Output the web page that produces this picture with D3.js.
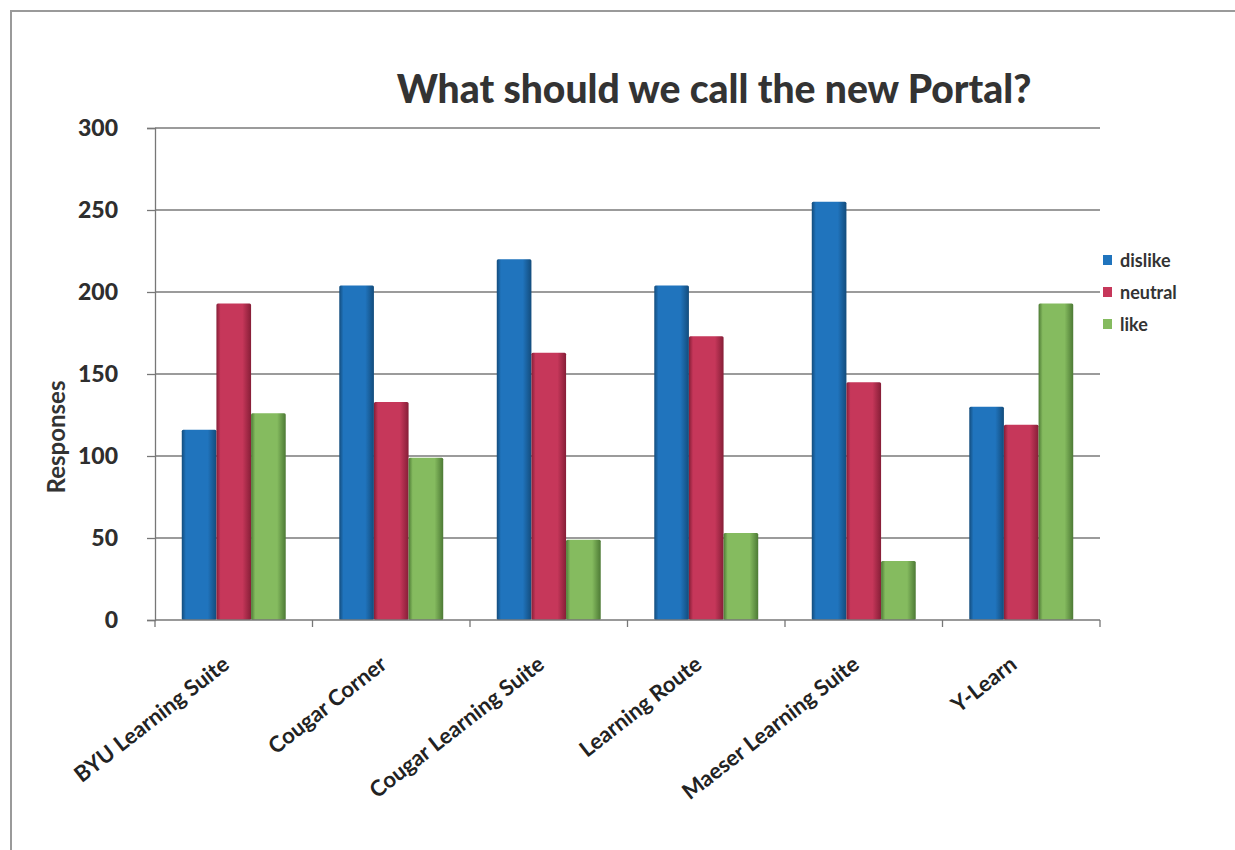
<!DOCTYPE html>
<html>
<head>
<meta charset="utf-8">
<script src="https://cdn.jsdelivr.net/npm/d3@7"></script>
<style>
  html, body { margin: 0; padding: 0; background: #fff; }
  svg { display: block; font-family: Lato, "Open Sans", sans-serif; }
</style>
</head>
<body>
<svg id="chart" width="1235" height="850"></svg>
<script>
const title = "What should we call the new Portal?";
const yAxisTitle = "Responses";
const categories = ["BYU Learning Suite", "Cougar Corner", "Cougar Learning Suite", "Learning Route", "Maeser Learning Suite", "Y-Learn"];
const seriesNames = ["dislike", "neutral", "like"];
const dislike = [116, 204, 220, 204, 255, 130];
const neutral = [193, 133, 163, 173, 145, 119];
const like = [126, 99, 49, 53, 36, 193];
const yTicks = [0, 50, 100, 150, 200, 250, 300];

const seriesValues = [dislike, neutral, like];
const colors = {
  dislike: { mid: "#2074bd", edge: "#134c7c" },
  neutral: { mid: "#c6375a", edge: "#861e37" },
  like:    { mid: "#85bb5f", edge: "#4d7a35" }
};

const svg = d3.select("#chart");
const m = { left: 155, right: 1100, top: 128, bottom: 620 };

// frame
svg.append("rect").attr("x", 11).attr("y", 11).attr("width", 1300).attr("height", 900)
  .attr("fill", "#fff").attr("stroke", "#9a9a9a").attr("stroke-width", 2);

// gradients
const defs = svg.append("defs");
seriesNames.forEach(s => {
  const g = defs.append("linearGradient").attr("id", "g-" + s).attr("x1", "0").attr("x2", "1").attr("y1", "0").attr("y2", "0");
  g.append("stop").attr("offset", "0%").attr("stop-color", colors[s].edge);
  g.append("stop").attr("offset", "12%").attr("stop-color", colors[s].mid);
  g.append("stop").attr("offset", "75%").attr("stop-color", colors[s].mid);
  g.append("stop").attr("offset", "100%").attr("stop-color", colors[s].edge);
});

const x0 = d3.scaleBand().domain(categories).range([m.left, m.right]).paddingInner(0.34).paddingOuter(0.17);
const x1 = d3.scaleBand().domain(seriesNames).range([0, x0.bandwidth()]);
const y = d3.scaleLinear().domain([0, 300]).range([m.bottom, m.top]);

// gridlines
svg.append("g").selectAll("line").data(yTicks.filter(t => t > 0)).join("line")
  .attr("x1", m.left).attr("x2", m.right)
  .attr("y1", d => y(d)).attr("y2", d => y(d))
  .attr("stroke", "#7a7a7a").attr("stroke-width", 1.3);

// y axis
const yAxis = svg.append("g").attr("transform", `translate(${m.left},0)`)
  .call(d3.axisLeft(y).tickValues(yTicks).tickSize(8).tickPadding(29));
yAxis.select(".domain").attr("stroke", "#777").attr("stroke-width", 1.3);
yAxis.selectAll(".tick line").attr("stroke", "#777").attr("stroke-width", 1.3);
yAxis.selectAll(".tick text").attr("font-size", 23).attr("font-weight", 900)
  .attr("fill", "#2e2e2e").attr("font-family", "Lato, sans-serif");

// bars
const groups = svg.append("g").selectAll("g").data(categories).join("g")
  .attr("transform", d => `translate(${x0(d)},0)`);
groups.selectAll("rect").data((c, i) => seriesNames.map((s, k) => ({ s, v: seriesValues[k][i] }))).join("rect")
  .attr("x", d => x1(d.s)).attr("width", x1.bandwidth())
  .attr("y", d => y(d.v)).attr("height", d => y(0) - y(d.v))
  .attr("fill", d => `url(#g-${d.s})`)
  .attr("rx", 1.5);

// x axis
const xAxis = svg.append("g").attr("transform", `translate(0,${m.bottom})`);
xAxis.append("line").attr("x1", m.left).attr("x2", m.right).attr("y1", 0).attr("y2", 0)
  .attr("stroke", "#777").attr("stroke-width", 1.3);
const boundaries = d3.range(categories.length + 1).map(i => m.left + i * x0.step());
xAxis.selectAll("line.tk").data(boundaries).join("line").attr("class", "tk")
  .attr("x1", d => d).attr("x2", d => d).attr("y1", 0).attr("y2", 7)
  .attr("stroke", "#777").attr("stroke-width", 1.3);

// x labels
svg.append("g").selectAll("text").data(categories).join("text")
  .attr("transform", d => `translate(${x0(d) + x0.bandwidth() / 2 - 3},${m.bottom + 47}) rotate(-38)`)
  .attr("text-anchor", "end")
  .attr("font-size", 22).attr("font-weight", "bold").attr("fill", "#222")
  .text(d => d);

// y axis title
svg.append("text").attr("transform", `translate(65,437) rotate(-90)`)
  .attr("text-anchor", "middle").attr("font-size", 24).attr("font-weight", "bold").attr("fill", "#333")
  .text(yAxisTitle);

// title
const t = svg.append("text").attr("x", 714).attr("y", 103).attr("text-anchor", "middle")
  .attr("font-size", 38).attr("font-weight", 900).attr("fill", "#333").text(title);
const len = t.node().getComputedTextLength();
t.attr("font-size", 38 * 635 / len);

// legend
const legend = svg.append("g").attr("transform", "translate(1103,255)");
const li = legend.selectAll("g").data(seriesNames).join("g")
  .attr("transform", (d, i) => `translate(0,${i * 32})`);
li.append("rect").attr("width", 9).attr("height", 10).attr("fill", d => colors[d].mid);
li.append("text").attr("x", 17).attr("y", 12).attr("font-size", 18).attr("font-weight", "bold")
  .attr("fill", "#333").text(d => d);
</script>
</body>
</html>
